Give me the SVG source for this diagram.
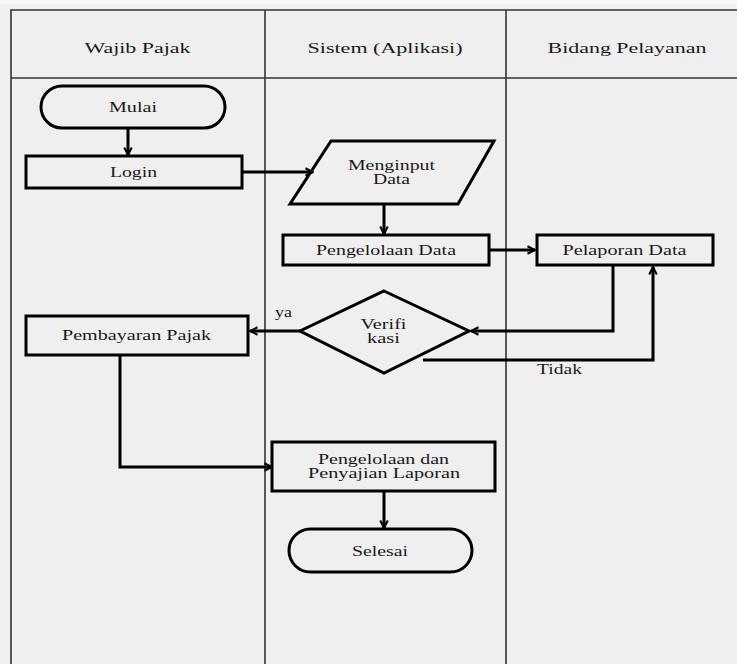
<svg xmlns="http://www.w3.org/2000/svg" width="737" height="664" viewBox="0 0 737 664">
<defs>
<marker id="arr" viewBox="0 0 12 12" refX="11" refY="6" markerWidth="10" markerHeight="10" markerUnits="userSpaceOnUse" orient="auto">
<path d="M2,1.5 L11,6 L2,10.5" fill="none" stroke="#000" stroke-width="2.4"/>
</marker>
<style>
.lane{stroke:#333;stroke-width:1.6;fill:none}
.shape{fill:none;stroke:#000;stroke-width:3}
.conn{fill:none;stroke:#000;stroke-width:3;marker-end:url(#arr)}
text{font-family:"Liberation Serif","Times New Roman",serif;fill:#1a1a1a;text-anchor:middle}
.hd{font-size:15px}
.tx{font-size:14px}
</style>
</defs>
<rect x="0" y="0" width="737" height="664" fill="#efefef"/>
<rect x="0" y="0" width="737" height="4" fill="#f8f8f8"/>
<g id="lanes">
<path class="lane" d="M11,664 V10 H737"/>
<path class="lane" d="M11,78 H737"/>
<path class="lane" d="M265,10 V664"/>
<path class="lane" d="M506,10 V664"/>
<text class="hd" x="137.5" y="53" textLength="106" lengthAdjust="spacingAndGlyphs">Wajib Pajak</text>
<text class="hd" x="385" y="53" textLength="155" lengthAdjust="spacingAndGlyphs">Sistem (Aplikasi)</text>
<text class="hd" x="627" y="53" textLength="159" lengthAdjust="spacingAndGlyphs">Bidang Pelayanan</text>
</g>
<g id="connectors">
<path class="conn" d="M128,128 V155"/>
<path class="conn" d="M242,172 H313"/>
<path class="conn" d="M384,204 V234"/>
<path class="conn" d="M489,250 H535"/>
<path class="conn" d="M613,265 V331 H471"/>
<path class="conn" d="M300,331 H250"/>
<path class="conn" d="M423,360 H653 V267"/>
<path class="conn" d="M120,355 V467 H272"/>
<path class="conn" d="M384,491 V528"/>
<text class="tx" x="283.5" y="317" textLength="17" lengthAdjust="spacingAndGlyphs">ya</text>
<text class="tx" x="559.5" y="374" textLength="45" lengthAdjust="spacingAndGlyphs">Tidak</text>
</g>
<g id="mulai">
<rect class="shape" x="41" y="86" width="184" height="42" rx="21"/>
<text class="tx" x="133" y="112" textLength="48" lengthAdjust="spacingAndGlyphs">Mulai</text>
</g>
<g id="login">
<rect class="shape" x="26" y="156" width="216" height="32"/>
<text class="tx" x="133.5" y="177" textLength="47" lengthAdjust="spacingAndGlyphs">Login</text>
</g>
<g id="menginput">
<polygon class="shape" points="331,141 494,141 458,204 290,204"/>
<text class="tx" x="391.5" y="170" textLength="87" lengthAdjust="spacingAndGlyphs">Menginput</text>
<text class="tx" x="391.5" y="184" textLength="37" lengthAdjust="spacingAndGlyphs">Data</text>
</g>
<g id="pengelolaan">
<rect class="shape" x="283" y="235" width="206" height="30"/>
<text class="tx" x="386" y="255" textLength="140" lengthAdjust="spacingAndGlyphs">Pengelolaan Data</text>
</g>
<g id="pelaporan">
<rect class="shape" x="537" y="235" width="176" height="30"/>
<text class="tx" x="624.5" y="255" textLength="124" lengthAdjust="spacingAndGlyphs">Pelaporan Data</text>
</g>
<g id="verifikasi">
<polygon class="shape" points="384,291 469,331 384,373 300,331"/>
<text class="tx" x="383.5" y="329" textLength="46" lengthAdjust="spacingAndGlyphs">Verifi</text>
<text class="tx" x="383.5" y="343" textLength="33" lengthAdjust="spacingAndGlyphs">kasi</text>
</g>
<g id="pembayaran">
<rect class="shape" x="26" y="316" width="222" height="39"/>
<text class="tx" x="136.5" y="340" textLength="149" lengthAdjust="spacingAndGlyphs">Pembayaran Pajak</text>
</g>
<g id="penyajian">
<rect class="shape" x="272" y="442" width="223" height="49"/>
<text class="tx" x="383.5" y="464" textLength="131" lengthAdjust="spacingAndGlyphs">Pengelolaan dan</text>
<text class="tx" x="384" y="478" textLength="152" lengthAdjust="spacingAndGlyphs">Penyajian Laporan</text>
</g>
<g id="selesai">
<rect class="shape" x="289" y="529" width="183" height="43" rx="21.5"/>
<text class="tx" x="380" y="556" textLength="56" lengthAdjust="spacingAndGlyphs">Selesai</text>
</g>
</svg>
